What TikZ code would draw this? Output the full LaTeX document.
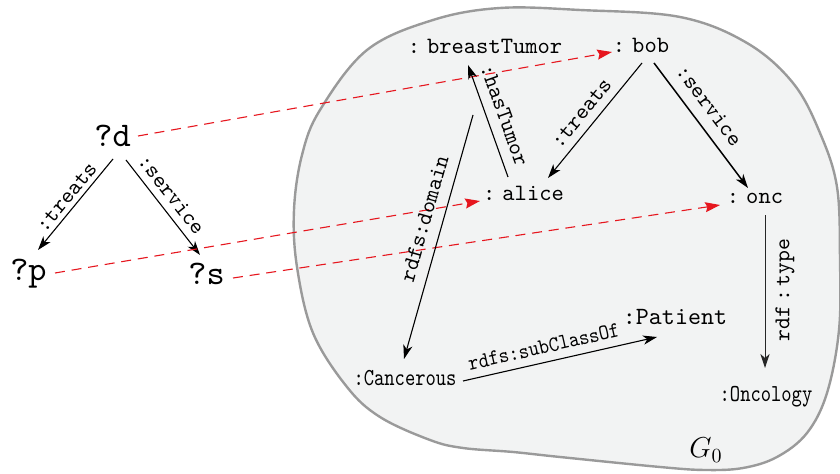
\documentclass[tikz,border=0pt]{standalone}
\usetikzlibrary{arrows.meta,calc}
\definecolor{blobfill}{HTML}{F2F3F3}
\definecolor{blobline}{HTML}{9A9A9A}
\definecolor{mapred}{HTML}{E6161E}
% typewriter text at 10pt design size, scaled like the reference
\newcommand\tx[2]{\scalebox{#1}{\fontsize{10}{12}\selectfont\ttfamily #2}}
\newcommand\txc[3]{\scalebox{#1}[#2]{\fontsize{10}{12}\selectfont\ttfamily #3}}
\begin{document}
\begin{tikzpicture}[x=0.5pt,y=-0.5pt,
  gnode/.style={inner sep=0pt, anchor=base},
  rel/.style={draw=black, line width=0.55pt, -{Stealth[length=7pt,width=4.6pt,inset=2pt]}},
  relrev/.style={draw=black!85, line width=0.5pt, {Stealth[length=7pt,width=4.6pt,inset=2pt]}-},
  map/.style={draw=mapred, line width=0.55pt, dash pattern=on 5pt off 3.4pt, -{Stealth[length=7.4pt,width=5pt,inset=1pt]}},
  lbl/.style={sloped},
]
\useasboundingbox (0,0) rectangle (840,474);
\draw[fill=blobfill, draw=blobline, line width=1.2pt] plot[smooth cycle, tension=0.6] coordinates {
 (433,20) (500,8) (580,10) (680,17) (747,43) (793,83) (820,133) (837,187) (840,260) (839,330)
 (827,393) (807,433) (777,457) (743,468) (705,470) (660,467) (560,457) (513,452) (463,448)
 (430,440) (380,417) (347,387) (313,333) (297,267) (294,210) (302,155) (320,110) (367,50)};

% query graph
\node[gnode] (d) at (112.5,147) {\tx{1.73}{?d}};
\node[gnode] (p) at (28.5,281) {\tx{1.73}{?p}};
\node[gnode] (s) at (206.5,285) {\tx{1.73}{?s}};

% data graph
\node[gnode] (bt) at (485,54) {\tx{1.17}{:\hspace{3pt}breastTumor}};
\node[gnode] (bob) at (641,53) {\tx{1.17}{:\hspace{3pt}bob}};
\node[gnode] (alice) at (523.5,201) {\tx{1.17}{:\hspace{3pt}alice}};
\node[gnode] (onc) at (755,204) {\tx{1.17}{:\hspace{3pt}onc}};
\node[gnode] (pat) at (675,325) {\tx{1.24}{:Patient}};
\node[gnode] (canc) at (405,386) {\txc{0.98}{1.22}{:Cancerous}};
\node[gnode] (onco) at (766,402) {\txc{0.98}{1.22}{:Oncology}};
\node[inner sep=0pt, anchor=base, font=\fontsize{14}{16}\selectfont] (g0) at (706,458) {$G_0$};

% query edges
\draw[rel] ([shift={(0.5,12)}]d.base) -- node[lbl, above, inner sep=2.2pt]{\tx{1.13}{:treats}} ([shift={(9.5,-31)}]p.base);
\draw[rel] ([shift={(13.5,13)}]d.base) -- node[lbl, above, inner sep=3.6pt, pos=0.46]{\tx{1.13}{:service}} ([shift={(-6.5,-30)}]s.base);

% mappings
\draw[map] ([shift={(25.5,-11)}]d.base) -- ([shift={(-29,-1)}]bob.base);
\draw[map] ([shift={(26.5,-8)}]p.base) -- ([shift={(-43.5,0)}]alice.base);
\draw[map] ([shift={(26.5,-7)}]s.base) -- ([shift={(-35,1)}]onc.base);

% data edges
\draw[rel] ([shift={(1,10)}]bob.base) -- node[lbl, above, inner sep=4pt, pos=0.52]{\tx{1.13}{:treats}} ([shift={(24.5,-23)}]alice.base);
\draw[rel, line width=0.75pt] ([shift={(13,10)}]bob.base) -- node[lbl, above, inner sep=5.5pt, pos=0.43]{\tx{1.13}{:service}} ([shift={(-7,-16)}]onc.base);
\draw[rel] ([shift={(-15.5,-24)}]alice.base) -- node[lbl, above, inner sep=5pt]{\tx{1.13}{:hasTumor}} ([shift={(-17,11)}]bt.base);
\coordinate (dom) at ($(bt.base)+(-12,61)$);
\draw[rel] (dom) -- node[lbl, above, inner sep=5.5pt, pos=0.445]{\tx{1.13}{rdfs:domain}} ([shift={(-1,-27)}]canc.base);
\draw[rel] ([shift={(58,-5)}]canc.base) -- node[lbl, above, inner sep=4pt, pos=0.434]{\txc{0.98}{1.1}{rdfs:subClassOf}} ([shift={(-18,12)}]pat.base);
\draw[relrev] ([shift={(-1,-34)}]onco.base) -- node[lbl, below, inner sep=5pt, pos=0.51]{\tx{1.13}{rdf\,:\,type}} ([shift={(10,11)}]onc.base);
\end{tikzpicture}
\end{document}
